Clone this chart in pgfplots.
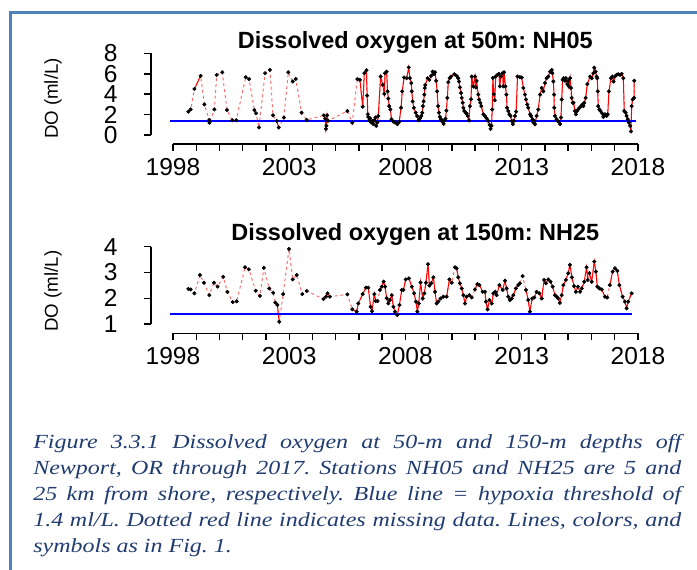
\documentclass[border=0pt]{standalone}
\usepackage{fontspec}
\setmainfont{Liberation Sans}
\newfontfamily\capfont{Liberation Serif}[FakeStretch=1.2]
\usepackage{pgfplots}
\usepackage{pgfplotstable}
\pgfplotsset{compat=1.18}
\definecolor{bordercol}{RGB}{79,129,189}
\definecolor{capcol}{RGB}{33,60,112}
\definecolor{dashred}{RGB}{255,110,110}

\pgfplotstableread{
t v
1998.66 2.29
1998.76 2.51
nan nan
1998.92 4.51
1999.19 5.80
nan nan
1999.35 3.00
nan nan
1999.56 1.48
1999.57 1.20
nan nan
1999.78 2.51
nan nan
1999.88 5.89
nan nan
2000.12 6.15
nan nan
2000.32 2.45
nan nan
2000.55 1.45
nan nan
2000.72 1.45
nan nan
2001.13 5.67
nan nan
2001.27 5.48
nan nan
2001.50 2.45
2001.57 2.13
nan nan
2001.70 0.74
nan nan
2001.96 6.06
nan nan
2002.17 6.38
nan nan
2002.30 1.93
nan nan
2002.46 1.38
2002.55 0.74
nan nan
2002.77 1.71
nan nan
2002.96 6.15
nan nan
2003.15 5.25
nan nan
2003.28 5.50
nan nan
2003.53 2.19
nan nan
2003.75 1.48
nan nan
2004.49 1.93
2004.55 1.60
2004.58 0.60
2004.60 0.90
2004.63 1.93
2004.67 1.40
nan nan
2005.50 2.35
nan nan
2005.71 1.20
nan nan
2005.93 5.48
2006.04 5.41
2006.16 2.77
2006.23 6.06
2006.32 6.35
2006.35 3.86
2006.38 2.03
2006.40 1.77
2006.44 1.45
2006.48 1.64
2006.52 1.23
2006.57 1.38
2006.62 1.06
2006.66 1.45
2006.71 1.71
2006.74 0.90
2006.79 1.23
2006.83 1.86
2006.93 5.73
2007.02 4.93
2007.09 4.03
2007.12 6.06
2007.19 6.21
2007.23 4.28
2007.26 3.57
2007.30 2.83
2007.35 2.51
2007.40 1.55
2007.48 1.32
2007.55 1.23
2007.65 1.06
2007.73 1.29
2007.81 2.67
2007.86 4.28
2007.94 5.64
2008.05 5.57
2008.14 6.63
2008.19 5.57
2008.25 5.09
2008.27 4.28
2008.31 3.30
2008.36 2.67
2008.44 2.19
2008.50 1.86
2008.56 1.45
2008.62 1.64
2008.68 1.86
2008.72 2.19
2008.75 2.83
2008.78 3.30
2008.81 3.96
2008.83 4.60
2008.85 4.90
2008.95 5.57
2009.02 5.41
2009.10 5.80
2009.17 6.21
2009.22 5.96
2009.27 6.15
2009.32 5.31
2009.36 4.28
2009.40 2.83
2009.44 2.19
2009.48 1.77
2009.53 1.55
2009.58 1.32
2009.64 1.10
2009.68 1.45
2009.72 1.60
2009.76 2.40
2009.80 3.64
2009.84 5.18
2009.90 5.57
2009.96 5.73
2010.10 5.96
2010.20 5.80
2010.27 5.57
2010.30 5.25
2010.34 4.67
2010.39 4.12
2010.42 3.64
2010.46 3.16
2010.49 2.67
2010.53 2.35
2010.59 2.19
2010.63 2.09
2010.67 1.87
2010.73 1.45
2010.77 2.83
2010.82 3.50
2010.85 5.73
2010.92 4.76
2010.99 5.73
2011.03 4.66
2011.06 5.30
2011.13 3.96
2011.17 3.47
2011.22 3.15
2011.26 2.83
2011.35 2.03
2011.42 1.86
2011.49 1.64
2011.56 1.38
2011.62 1.00
2011.66 0.60
2011.70 0.90
2011.73 2.50
2011.76 5.60
2011.80 4.00
2011.84 3.40
2011.88 5.73
2011.95 5.89
2012.02 5.99
2012.06 4.77
2012.10 5.73
2012.17 6.05
2012.21 4.77
2012.24 6.15
2012.30 4.77
2012.34 3.96
2012.37 2.67
2012.42 2.35
2012.47 2.03
2012.52 1.87
2012.57 1.38
2012.62 1.06
2012.66 1.38
2012.71 1.87
2012.76 2.30
2012.82 5.73
2012.92 5.67
2013.00 5.64
2013.07 4.61
2013.14 3.96
2013.18 3.48
2013.24 2.99
2013.28 2.67
2013.36 2.03
2013.40 1.87
2013.46 1.55
2013.50 1.22
2013.54 1.38
2013.57 1.06
2013.64 1.87
2013.71 2.51
2013.79 3.96
2013.86 4.61
2013.93 4.28
2014.00 5.10
2014.07 5.57
2014.14 5.73
2014.22 6.21
2014.29 6.38
2014.32 6.06
2014.36 5.25
2014.39 3.96
2014.40 2.67
2014.43 1.87
2014.50 1.55
2014.57 1.32
2014.65 1.06
2014.69 1.71
2014.72 3.48
2014.76 5.41
2014.80 5.57
2014.86 5.31
2014.90 5.57
2014.96 4.99
2015.00 5.31
2015.03 4.77
2015.08 5.57
2015.12 4.61
2015.15 3.64
2015.19 3.16
2015.23 3.16
2015.29 2.35
2015.33 2.03
2015.38 2.35
2015.43 2.51
2015.48 2.67
2015.55 2.83
2015.61 2.99
2015.65 2.83
2015.69 3.16
2015.75 3.64
2015.82 4.99
2015.94 5.73
2016.01 5.57
2016.08 6.06
2016.12 6.60
2016.18 6.21
2016.22 5.73
2016.25 5.57
2016.27 4.28
2016.29 2.83
2016.34 2.51
2016.39 2.35
2016.47 2.09
2016.51 1.77
2016.58 2.03
2016.65 1.87
2016.70 2.03
2016.75 4.28
2016.84 5.57
2016.90 5.73
2016.95 5.25
2017.01 5.73
2017.08 5.89
2017.15 5.96
2017.23 5.89
2017.30 5.99
2017.37 5.57
2017.41 2.35
2017.47 2.19
2017.51 1.87
2017.56 1.55
2017.61 1.22
2017.66 0.90
2017.70 0.35
2017.73 2.83
2017.77 3.48
2017.83 3.64
2017.84 5.31
}\nhfive

\pgfplotstableread{
t v
1998.66 2.36
1998.76 2.34
nan nan
1998.92 2.19
nan nan
1999.16 2.90
nan nan
1999.33 2.60
nan nan
1999.56 2.12
nan nan
1999.76 2.60
nan nan
1999.92 2.45
nan nan
2000.16 2.83
nan nan
2000.34 2.25
nan nan
2000.57 1.85
nan nan
2000.74 1.88
nan nan
2001.10 3.20
nan nan
2001.26 3.12
nan nan
2001.56 2.29
nan nan
2001.74 2.09
nan nan
2001.91 3.18
nan nan
2002.14 2.38
nan nan
2002.31 2.21
nan nan
2002.40 1.83
2002.49 1.74
2002.57 1.09
nan nan
2002.74 2.16
nan nan
2002.99 3.91
nan nan
2003.15 2.73
nan nan
2003.32 2.90
nan nan
2003.56 2.16
nan nan
2003.75 2.28
nan nan
2004.47 1.97
2004.58 2.06
2004.65 2.19
2004.75 2.06
nan nan
2005.50 2.15
nan nan
2005.71 1.57
2005.90 1.48
2005.97 1.80
2006.16 2.16
2006.30 2.41
2006.40 2.41
2006.50 1.67
2006.56 1.50
2006.66 2.16
2006.72 1.89
2006.80 1.89
nan nan
2006.90 2.32
2006.98 2.45
2007.06 2.64
2007.12 2.45
2007.19 2.00
2007.26 1.80
2007.33 1.93
2007.41 2.12
2007.48 1.67
2007.55 1.48
2007.65 1.35
2007.74 1.74
2007.84 2.32
2007.91 2.32
2008.01 2.73
2008.15 2.77
2008.27 2.45
2008.37 2.19
2008.45 1.87
2008.51 1.48
2008.57 1.80
2008.65 2.61
2008.74 1.99
2008.81 2.19
2008.88 2.60
2008.97 3.32
2009.03 2.49
2009.11 2.58
2009.20 2.81
2009.27 2.25
2009.34 1.80
2009.41 1.87
2009.51 1.99
2009.63 2.06
2009.77 2.06
2009.89 2.73
2009.99 2.60
nan nan
2010.13 3.20
2010.20 3.16
2010.27 2.81
2010.34 2.58
2010.42 2.38
2010.49 2.12
2010.56 1.80
2010.63 2.06
2010.75 2.12
2010.85 2.03
nan nan
2010.99 2.34
2011.09 2.55
2011.18 2.51
2011.32 2.25
2011.42 2.25
2011.46 1.87
2011.53 1.57
2011.61 1.93
2011.71 1.80
2011.78 2.19
2011.86 2.25
2011.92 2.12
2012.04 2.51
2012.18 2.32
2012.28 2.68
2012.35 2.38
2012.42 2.06
2012.49 1.93
2012.57 1.99
2012.64 2.12
2012.75 2.38
2012.85 2.51
2012.92 2.58
nan nan
2013.04 2.86
nan nan
2013.18 2.32
2013.28 1.93
2013.35 1.48
2013.45 1.99
2013.54 2.03
2013.64 2.25
2013.76 2.19
2013.86 1.99
2013.96 2.71
2014.04 2.58
2014.14 2.73
2014.24 2.64
2014.33 2.45
2014.43 2.12
2014.50 2.06
2014.57 1.99
2014.64 1.82
2014.72 2.12
2014.79 2.51
2014.90 2.71
2015.00 2.97
2015.07 3.29
2015.16 2.81
2015.25 2.47
2015.33 2.25
2015.42 2.45
2015.51 2.25
2015.58 2.38
2015.69 2.64
2015.79 3.20
2015.84 2.71
nan nan
2015.91 2.97
2016.01 2.64
2016.12 3.42
2016.19 3.03
2016.25 2.45
2016.34 2.38
2016.44 2.34
2016.58 2.06
2016.68 2.03
nan nan
2016.79 2.51
2016.91 3.03
2017.01 3.16
2017.11 3.06
2017.20 2.51
2017.34 2.06
2017.44 1.87
2017.51 1.61
2017.58 1.87
2017.73 2.19
}\nhtwentyfive

\pgfplotsset{
  rstyle/.style={
    scale only axis, anchor=south west, clip=false,
    xmin=1997.054, xmax=2018.5,
    axis x line*=bottom, axis y line*=left,
    x axis line style={black, line width=1.1pt, shorten <=16.5pt, shorten >=8.72pt},
    xtick={1998,2003,2008,2013,2018},
    xticklabels={1998,2003,2008,2013,2018},
    minor xtick={1999,2000,...,2017},
    tick align=outside,
    major tick length=5pt, minor tick length=5pt,
    tick style={black, line width=1.1pt},
    tick label style={font=\fontsize{18.4pt}{20pt}\selectfont, inner sep=0pt},
    xticklabel style={anchor=north, yshift=-5.5pt},
    yticklabel style={anchor=east, xshift=-20pt},
    ylabel={DO (ml/L)},
    ylabel style={font=\fontsize{14pt}{16pt}\selectfont, anchor=center},
  },
  dashline/.style={dashred, line width=0.75pt, dash pattern=on 2.2pt off 2.2pt, unbounded coords=discard},
  solidline/.style={red, line width=0.75pt, unbounded coords=jump},
  dots/.style={only marks, mark=*, mark size=1.3pt, black, unbounded coords=discard},
  hypox/.style={blue, line width=1.8pt},
}

\begin{document}
\frenchspacing
\begin{tikzpicture}
\useasboundingbox (0,0) rectangle (522.75pt,-426.75pt);
% frame
\draw[bordercol, line width=2.6pt] (8pt,-600pt) -- (8pt,-9.2pt) -- (600pt,-9.2pt);

% panel 1
\begin{axis}[rstyle,
  at={(113.25pt,-108pt)}, width=373.95pt, height=71.78pt,
  ymin=-0.882, ymax=8.5,
  y axis line style={black, line width=1.1pt, shorten <=6.75pt, shorten >=3.83pt},
  ytick={0,2,4,6,8}, yticklabels={0,2,4,6,8},
  ylabel style={at={(axis description cs:-0.1966,0.475)}},
]
\addplot[dashline] table[x=t,y=v] {\nhfive};
\addplot[solidline] table[x=t,y=v] {\nhfive};
\addplot[hypox] coordinates {(1997.87,1.4) (2017.91,1.4)};
\addplot[dots] table[x=t,y=v] {\nhfive};
\end{axis}

% panel 2
\begin{axis}[rstyle,
  at={(113.25pt,-250pt)}, width=373.95pt, height=68.9pt,
  ymin=0.64, ymax=4.2,
  y axis line style={black, line width=1.1pt, shorten <=6.97pt, shorten >=3.87pt},
  ytick={1,2,3,4}, yticklabels={1,2,3,4},
  ylabel style={at={(axis description cs:-0.1966,0.46)}},
]
\addplot[dashline] table[x=t,y=v] {\nhtwentyfive};
\addplot[solidline] table[x=t,y=v] {\nhtwentyfive};
\addplot[hypox] coordinates {(1997.87,1.4) (2017.74,1.4)};
\addplot[dots] table[x=t,y=v] {\nhtwentyfive};
\end{axis}

% titles
\node[anchor=base, inner sep=0pt, font=\bfseries\fontsize{17.6pt}{20pt}\selectfont] at (311.5pt,-36.2pt) {Dissolved oxygen at 50m: NH05};
\node[anchor=base, inner sep=0pt, font=\bfseries\fontsize{17.6pt}{20pt}\selectfont] at (311.5pt,-180.4pt) {Dissolved oxygen at 150m: NH25};

% caption
\begin{scope}[every node/.style={anchor=base west, inner sep=0pt, text=capcol, font=\capfont\itshape\fontsize{15pt}{19.7pt}\selectfont}]
\node at (24.75pt,-336pt) {\hbox to 486pt{Figure 3.3.1 Dissolved oxygen at 50-m and 150-m depths off}};
\node at (24.75pt,-355.65pt) {\hbox to 486pt{Newport, OR through 2017. Stations NH05 and NH25 are 5 and}};
\node at (24.75pt,-375.3pt) {\hbox to 486pt{25 km from shore, respectively. Blue line = hypoxia threshold of}};
\node at (24.75pt,-394.95pt) {\hbox to 486pt{1.4 ml/L. Dotted red line indicates missing data. Lines, colors, and}};
\node at (24.75pt,-414.6pt) {symbols as in Fig. 1.};
\end{scope}
\end{tikzpicture}
\end{document}
